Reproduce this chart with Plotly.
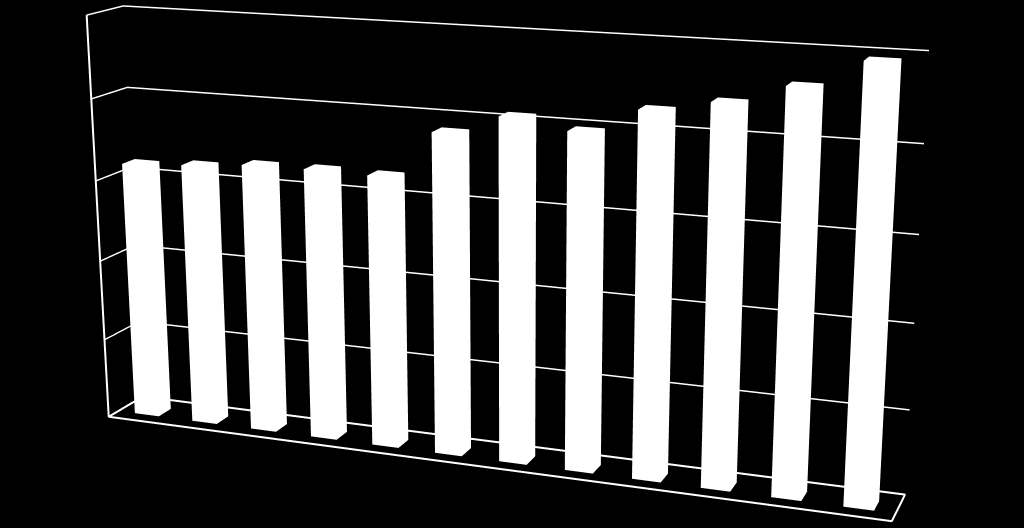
import plotly.graph_objects as go

categories = list(range(1, 13))
values = [63.6, 64.5, 65.8, 66.0, 65.8, 77.1, 81.8, 79.6, 85.5, 88.2, 92.7, 99.0]

BAR_WIDTH = 0.42
BAR_FRONT = 0.28
BAR_BACK = 0.64
FOVY = 0.2584  # narrower lens than plotly's fixed 45 degrees


def bar_mesh(slot, value):
    """
    Box for one category, standing on the floor of the scene
    """
    x0 = slot - BAR_WIDTH / 2
    x1 = slot + BAR_WIDTH / 2
    return go.Mesh3d(
        x=[x0, x1, x1, x0, x0, x1, x1, x0],
        y=[BAR_FRONT, BAR_FRONT, BAR_BACK, BAR_BACK] * 2,
        z=[0, 0, 0, 0, value, value, value, value],
        i=[0, 0, 4, 4, 0, 0, 1, 1, 2, 2, 3, 3],
        j=[1, 2, 5, 6, 1, 5, 2, 6, 3, 7, 0, 4],
        k=[2, 3, 6, 7, 5, 4, 6, 5, 7, 6, 4, 7],
        color="white",
        flatshading=True,
        lighting=dict(ambient=1, diffuse=0, specular=0, fresnel=0),
        hoverinfo="skip",
    )


fig = go.Figure()
for category, value in zip(categories, values):
    fig.add_trace(bar_mesh(category - 0.5, value))

# left wall edge and floor outline
fig.add_trace(
    go.Scatter3d(
        x=[0, 0, 0, 12, 12, 0],
        y=[0, 0, 1, 1, 0, 0],
        z=[100, 0, 0, 0, 0, 0],
        mode="lines",
        line=dict(color="white", width=4),
        hoverinfo="skip",
    )
)

hidden_axis = dict(
    showgrid=False,
    zeroline=False,
    showticklabels=False,
    showbackground=False,
    showspikes=False,
    title="",
)

fig.update_layout(
    width=1024,
    height=528,
    margin=dict(l=0, r=0, t=0, b=0),
    paper_bgcolor="black",
    showlegend=False,
    scene=dict(
        domain=dict(x=[0, 1], y=[0, 1]),
        xaxis=dict(hidden_axis, range=[0, 12]),
        yaxis=dict(hidden_axis, range=[0, 1]),
        zaxis=dict(hidden_axis, range=[0, 100], showgrid=True, gridcolor="white", gridwidth=3, dtick=20),
        aspectmode="manual",
        aspectratio=dict(x=1, y=0.0850, z=0.5145),
        camera=dict(
            eye=dict(x=0.8360, y=-2.1647, z=0.6103),
            center=dict(x=0.0266, y=0.0191, z=-0.0211),
            up=dict(x=0.0010, y=0.0030, z=1),
        ),
    ),
)

post_script = (
    "document.body.style.margin='0';document.body.style.background='black';"
    "var g=document.getElementById('{plot_id}')._fullLayout.scene._scene.glplot;"
    "g.fovy=%f;g.redraw();" % FOVY
)
fig.write_html("out.html", post_script=post_script, config=dict(displayModeBar=False))
